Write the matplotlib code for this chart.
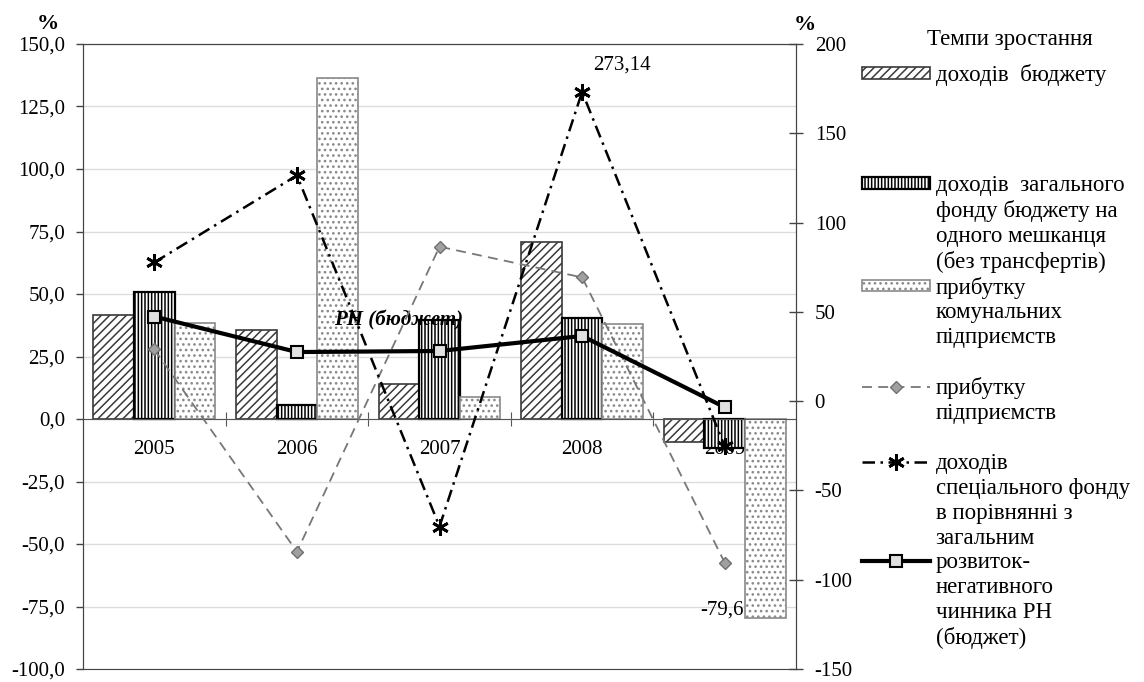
import numpy as np
import matplotlib
matplotlib.use('Agg')
import matplotlib.pyplot as plt
from matplotlib.lines import Line2D

# --> Data
years = ['2005', '2006', '2007', '2008', '2009']

# bars, left axis (%)
budget_income = [41.5, 35.7, 14.0, 70.8, -9.1]
general_fund_per_capita = [50.8, 5.6, 39.5, 40.3, -11.6]
municipal_profit = [38.5, 136.3, 9.0, 38.0, -79.6]

# lines, right axis (%)
enterprise_profit = [29.0, -84.3, 86.5, 69.3, -90.4]
special_fund = [77.7, 126.4, -70.2, 173.2, -25.3]  # 2008 point drawn cut, real value 273,14
rn_budget = [47.4, 27.5, 28.1, 36.5, -3.4]

left_ticks = [-100, -75, -50, -25, 0, 25, 50, 75, 100, 125, 150]
right_ticks = [-150, -100, -50, 0, 50, 100, 150, 200]

legend_title = 'Темпи зростання'
series_names = ['доходів  бюджету',
                'доходів  загального\nфонду бюджету на\nодного мешканця\n(без трансфертів)',
                'прибутку\nкомунальних\nпідприємств',
                'прибутку\nпідприємств',
                'доходів\nспеціального фонду\nв порівнянні з\nзагальним',
                'розвиток-\nнегативного\nчинника РН\n(бюджет)']

# --> Style
plt.rcParams['font.family'] = ['Liberation Serif', 'DejaVu Serif']
plt.rcParams['hatch.linewidth'] = 1.1
FS = 15
LFS = 16.5

fig = plt.figure(figsize=(11.44, 6.82), dpi=100)
ax = fig.add_axes([0.0726, 0.019, 0.6232, 0.9165])

x = np.arange(len(years))
w = 0.285
b1 = ax.bar(x - w, budget_income, w, color='white', edgecolor='#3a3a3a', hatch='////', linewidth=1.2)
b2 = ax.bar(x, general_fund_per_capita, w, color='white', edgecolor='black', hatch='|||||', linewidth=1.6)
b3 = ax.bar(x + w, municipal_profit, w, color='white', edgecolor='#8a8a8a', hatch='...', linewidth=1.2)

ax.set_xlim(-0.5, len(years) - 0.5)
ax.set_ylim(-100, 150)
ax.set_yticks(left_ticks)
ax.set_yticklabels([f'{v:.1f}'.replace('.', ',') for v in left_ticks], fontsize=FS)
ax.tick_params(axis='y', direction='out', length=5, width=1, pad=8, color='#444444')
ax.yaxis.grid(True, color='#dcdcdc', linewidth=1)
ax.set_axisbelow(True)

# --> category axis sits on the zero line
ax.spines['bottom'].set_position(('data', 0))
ax.spines['bottom'].set_color('#555555')
ax.set_xticks(x[:-1] + 0.5)
ax.set_xticklabels([])
ax.set_xticks(x, minor=True)
ax.set_xticklabels(years, minor=True, fontsize=FS)
ax.tick_params(axis='x', which='major', direction='inout', length=10, color='#555555')
ax.tick_params(axis='x', which='minor', length=0, pad=15)
for s in ['top', 'left', 'right']:
    ax.spines[s].set_color('#444444')

# --> Lines on secondary axis
ax2 = ax.twinx()
ax2.set_ylim(-150, 200)
ax2.set_yticks(right_ticks)
ax2.set_yticklabels([str(v) for v in right_ticks], fontsize=FS)
ax2.tick_params(axis='y', direction='inout', length=10, width=1, pad=8.5, color='#444444')
for s in ax2.spines.values():
    s.set_color('#444444')

l1, = ax2.plot(x, enterprise_profit, color='#777777', linestyle=(0, (5.5, 3.5)), linewidth=1.3,
               marker='D', markersize=6.5, markerfacecolor='#a0a0a0', markeredgecolor='#707070')
l2, = ax2.plot(x, special_fund, color='black', linestyle=(0, (5, 2.2, 1, 2.2)), linewidth=1.8,
               marker=(6, 2, 0), markersize=12, markeredgewidth=2)
l3, = ax2.plot(x, rn_budget, color='black', linewidth=3,
               marker='s', markersize=8, markerfacecolor='#e0e0e0', markeredgecolor='black',
               markeredgewidth=1.5)

# --> Annotations
ax2.annotate('273,14', xy=(x[3], special_fund[3]), xytext=(29, 19), textcoords='offset points',
             ha='center', va='center', fontsize=FS)
ax.annotate('-79,6', xy=(x[4] + w, municipal_profit[4]), xytext=(-31, 6), textcoords='offset points',
            ha='center', va='center', fontsize=FS)
ax.text(1.71, 39.6, 'РН (бюджет)', fontsize=FS, fontweight='bold', fontstyle='italic',
        ha='center', va='center')

fig.text(48 / 1144, 1 - 24 / 682, '%', fontsize=16, fontweight='bold', ha='center', va='center')
fig.text(805 / 1144, 1 - 25 / 682, '%', fontsize=16, fontweight='bold', ha='center', va='center')

# --> Legend, one row per text line so the handle sits on the first line
blank = Line2D([], [], linestyle='none')
fig.text(1010 / 1144, 1 - 40 / 682, legend_title, fontsize=LFS, ha='center', va='center')
fig.legend([b1], [series_names[0]], loc='upper left', bbox_to_anchor=(862 / 1144, 1 - 64 / 682),
           frameon=False, fontsize=LFS, handlelength=2.97, handleheight=0.4, handletextpad=0.25,
           borderpad=0, borderaxespad=0)

handles, labels = [], []
for i, (h, name) in enumerate(zip([b2, b3, l1, l2, l3], series_names[1:])):
    lines = name.split('\n')
    handles += [h] + [blank] * (len(lines) - 1)
    labels += lines
    if i in (1, 2):
        handles.append(blank)
        labels.append('')
fig.legend(handles, labels, loc='upper left', bbox_to_anchor=(862 / 1144, 1 - 175 / 682),
           frameon=False, fontsize=LFS, handlelength=2.97, handleheight=0.4, handletextpad=0.25,
           labelspacing=0.17, borderpad=0, borderaxespad=0)

fig.savefig('out.png', dpi=100)
